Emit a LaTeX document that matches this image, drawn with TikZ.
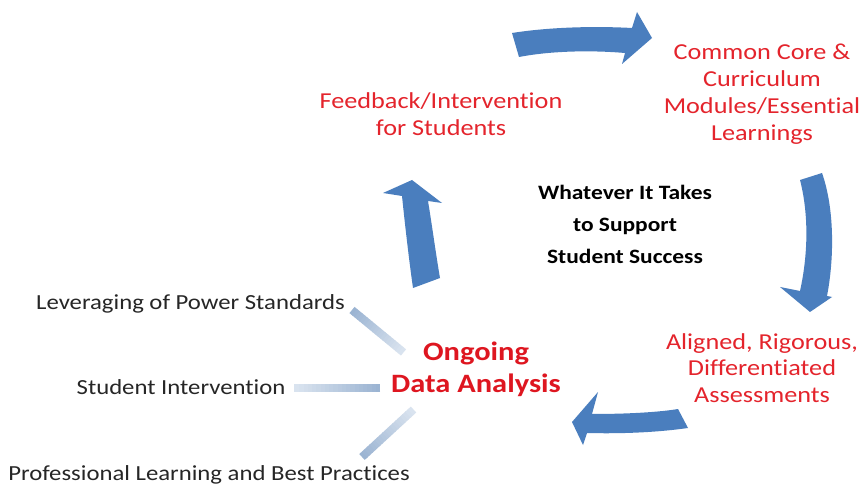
\documentclass[tikz,border=0pt]{standalone}
\usepackage{fontspec}
\setmainfont[FakeStretch=1.15, Ligatures=NoCommon]{Carlito}
\usetikzlibrary{calc}
\definecolor{arrowblue}{RGB}{74,126,190}
\definecolor{lblred}{RGB}{228,36,44}
\definecolor{deepred}{RGB}{222,22,32}
\definecolor{linedark}{RGB}{155,180,210}
\definecolor{linelight}{RGB}{228,235,244}
\tikzset{
  arrowfill/.style={fill=arrowblue},
  redlbl/.style={font=\fontsize{22.8}{26.8}\selectfont, text=lblred, align=center, inner sep=0pt},
  blacklbl/.style={font=\fontsize{21.5}{24}\selectfont, text=black!85, inner sep=0pt, anchor=base},
  centerlbl/.style={font=\bfseries\fontsize{20.4}{32}\selectfont, text=black, align=center, inner sep=0pt},
  hublbl/.style={font=\bfseries\fontsize{26.5}{32}\selectfont, text=deepred, align=center, inner sep=0pt},
}
% fading connector: #1 start (dark end), #2 end (light end)
\newcommand{\fadeline}[2]{%
  \foreach \i in {0,...,19}{%
    \pgfmathsetmacro{\pa}{\i/20}%
    \pgfmathsetmacro{\pb}{(\i+1)/20+0.01}%
    \pgfmathsetmacro{\pc}{100-\i*4.5}%
    \draw[line width=8pt, color=linedark!\pc!linelight] ($(#1)!\pa!(#2)$) -- ($(#1)!\pb!(#2)$);
  }%
}
\begin{document}
\begin{tikzpicture}[x=1pt,y=-1pt]
\useasboundingbox (0,0) rectangle (862,486);
\fill[white] (0,0) rectangle (862,486);

% cycle arrows
\fill[arrowfill] (512,33) .. controls (550,27) and (595,26) .. (632,28) -- (637,12) -- (652,38) -- (622,64) -- (625,53) .. controls (590,50) and (550,51) .. (519,57) -- cycle;
\fill[arrowfill] (800,180) -- (822,173) .. controls (835,210) and (834,260) .. (827,296) -- (832,297) -- (810,312) -- (780,287) -- (800,291) .. controls (808,255) and (809,215) .. (800,180) -- cycle;
\fill[arrowfill] (678,409) -- (688,428) .. controls (660,432) and (625,434) .. (587,433) -- (583,445) -- (572,422) -- (598,392) -- (592,414) .. controls (630,414) and (660,412) .. (678,409) -- cycle;
\fill[arrowfill] (413,288) -- (440,278) .. controls (436,255) and (432,225) .. (428,201) -- (442,203) -- (412,180) -- (383,193) -- (402,196) .. controls (405,225) and (409,260) .. (413,288) -- cycle;

% labels
\node[redlbl] (fb) at (441,114.5) {Feedback/Intervention\\for Students};
\node[redlbl] (cc) at (762,94) {Common Core \&\\Curriculum\\Modules/Essential\\Learnings};
\node[redlbl] (as) at (762,368) {Aligned, Rigorous,\\Differentiated\\Assessments};
\node[centerlbl] (wt) at (625,224.5) {Whatever It Takes\\to Support\\Student Success};
\node[hublbl] (hub) at (476,369.5) {Ongoing\\Data Analysis};

\node[blacklbl] (lev) at (190.5,309) {Leveraging of Power Standards};
\node[blacklbl] (si) at (181,394) {Student Intervention};
\node[blacklbl] (pl) at (209,480.5) {Professional Learning and Best Practices};

% connector end points
\coordinate (lev-a) at (352,310);
\coordinate (lev-b) at (403,352);
\coordinate (si-a) at (380,388);
\coordinate (si-b) at (295,388);
\coordinate (pl-a) at (362,457);
\coordinate (pl-b) at (413,410);

\fadeline{lev-a}{lev-b}
\fadeline{si-a}{si-b}
\fadeline{pl-a}{pl-b}
\end{tikzpicture}
\end{document}
